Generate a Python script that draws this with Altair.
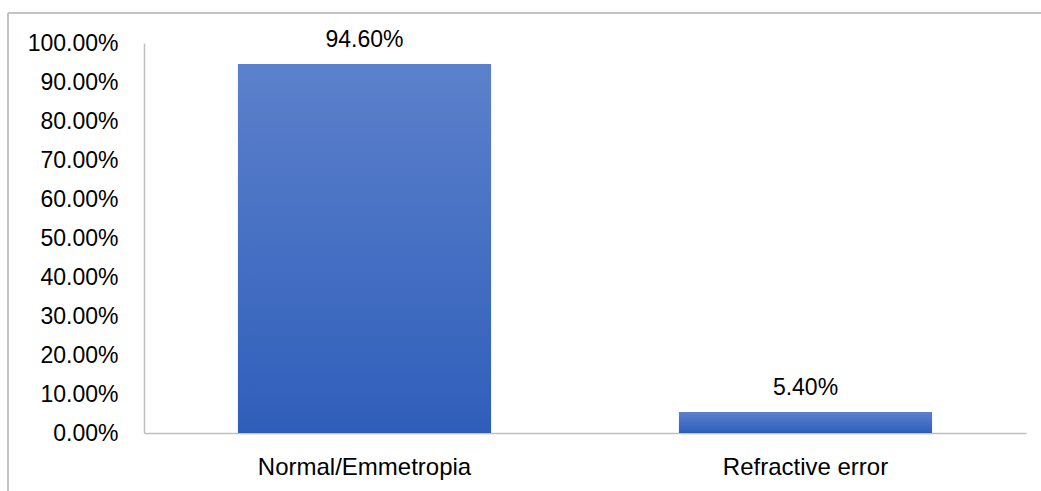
import altair as alt
import pandas as pd

categories = ["Normal/Emmetropia", "Refractive error"]
shares = [94.60, 5.40]
labels = ["94.60%", "5.40%"]
y_ticks = [0, 10, 20, 30, 40, 50, 60, 70, 80, 90, 100]

df = pd.DataFrame({"category": categories, "share": shares, "label": labels})

FONT = "Liberation Sans"
GRID = "#BFBFBF"

x_enc = alt.X(
    "category:N",
    sort=categories,
    title=None,
    scale=alt.Scale(paddingInner=0.426, paddingOuter=0.213),
    axis=alt.Axis(
        labelAngle=0,
        labelFontSize=24,
        labelFont=FONT,
        labelColor="#000000",
        labelPadding=22,
        labelLimit=500,
        ticks=False,
        domainColor=GRID,
        domainWidth=1.5,
    ),
)
y_enc = alt.Y(
    "share:Q",
    title=None,
    scale=alt.Scale(domain=[0, 100], nice=False),
    axis=alt.Axis(
        values=y_ticks,
        labelExpr="format(datum.value, '.2f') + '%'",
        labelFontSize=23,
        labelFont=FONT,
        labelColor="#000000",
        labelPadding=26,
        labelOverlap=False,
        ticks=False,
        grid=False,
        domainColor=GRID,
        domainWidth=1.5,
    ),
)

base = alt.Chart(df).encode(x=x_enc, y=y_enc)

bars = base.mark_bar(
    color=alt.Gradient(
        gradient="linear",
        x1=0, x2=0, y1=0, y2=1,
        stops=[
            alt.GradientStop(color="#5C81CC", offset=0),
            alt.GradientStop(color="#2F5EBA", offset=1),
        ],
    )
)

text = base.mark_text(
    baseline="bottom", dy=-12, fontSize=23, font=FONT, color="#000000"
).encode(text="label:N")

# outer chart frame (left and top edges)
frame_left = alt.Chart(df).mark_rule(color=GRID, strokeWidth=1.5).encode(
    x=alt.value(-136), y=alt.value(-30), y2=alt.value(460)
)
frame_top = alt.Chart(df).mark_rule(color=GRID, strokeWidth=1.5).encode(
    x=alt.value(-136), x2=alt.value(900), y=alt.value(-30)
)

chart = (
    alt.layer(bars, text, frame_left, frame_top)
    .properties(
        width=882,
        height=390,
        background="#FFFFFF",
        autosize=alt.AutoSizeParams(type="none"),
        padding={"left": 144, "top": 43, "right": 15, "bottom": 58},
    )
    .configure_view(strokeWidth=0, stroke=None)
)

chart.save("out.html", embed_options={"renderer": "svg", "actions": False})
